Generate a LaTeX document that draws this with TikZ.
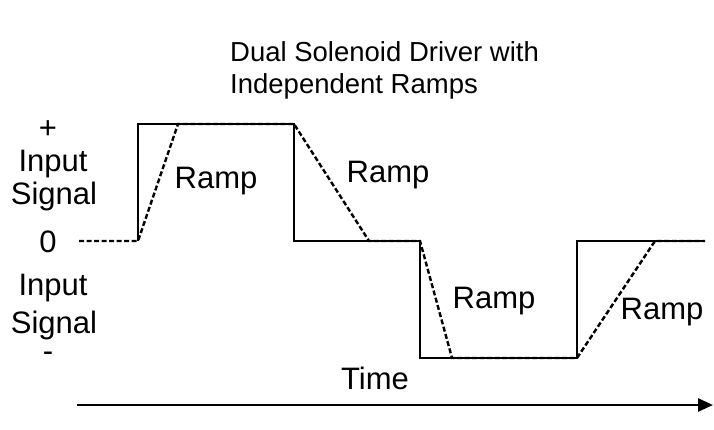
\documentclass[tikz,border=0pt]{standalone}
\usepackage{fontspec}
\setmainfont{Liberation Sans}
\usetikzlibrary{arrows.meta}
\begin{document}
\begin{tikzpicture}[x=1pt,y=-1pt,
  lbl/.style={font=\fontsize{31}{36}\selectfont, anchor=base, inner sep=0pt},
  ttl/.style={font=\fontsize{27.5}{32}\selectfont, anchor=base west, inner sep=0pt},
  sig/.style={line width=2.4pt, line join=miter},
  ramp/.style={line width=2.4pt, dash pattern=on 5pt off 2.5pt}]
\useasboundingbox (0,0) rectangle (714,430);
% title
\node[ttl] (t1) at (230,62) {Dual Solenoid Driver with};
\node[ttl] (t2) at (230,94) {Independent Ramps};
% left labels
\node[lbl] (plus) at (48,139) {+};
\node[lbl] (in1) at (53,172) {Input};
\node[lbl] (sg1) at (54,205) {Signal};
\node[lbl] (zero) at (48,252) {0};
\node[lbl] (in2) at (53,295) {Input};
\node[lbl] (sg2) at (54,333) {Signal};
\node[lbl] (minus) at (48,361) {-};
% waveform points
\coordinate (a) at (79,241);
\coordinate (b) at (138,241);
\coordinate (c) at (138,124);
\coordinate (cr) at (178,124);
\coordinate (d) at (294,124);
\coordinate (e) at (294,241);
\coordinate (er) at (369,241);
\coordinate (f) at (420,241);
\coordinate (g) at (420,358);
\coordinate (gr) at (452,358);
\coordinate (h) at (577,358);
\coordinate (i) at (577,241);
\coordinate (ir) at (655,241);
\coordinate (j) at (705,241);
\draw[ramp] (a) -- (b) -- (cr) -- (d) -- (er) -- (f) -- (gr) -- (h) -- (ir) -- (j);
\draw[sig] (b) -- (c) -- (d) -- (e) -- (f) -- (g) -- (h) -- (i) -- (j);
% ramp labels
\node[lbl] (r1) at (216,189) {Ramp};
\node[lbl] (r2) at (388,183) {Ramp};
\node[lbl] (r3) at (494,308) {Ramp};
\node[lbl] (r4) at (662,319) {Ramp};
% time axis
\node[lbl] (time) at (375,389) {Time};
\coordinate (ts) at (77,405);
\coordinate (te) at (713,405);
\draw[line width=2.6pt, -{Triangle[length=15pt,width=13pt]}] (ts) -- (te);
\end{tikzpicture}
\end{document}
